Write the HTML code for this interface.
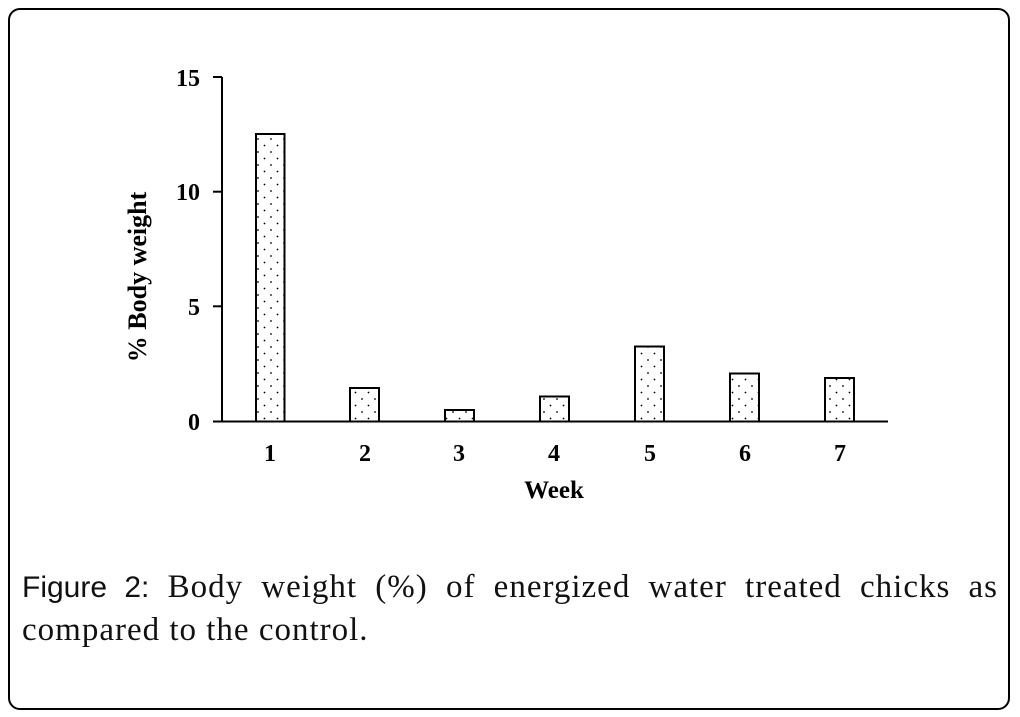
<!DOCTYPE html>
<html><head><style>
html,body{margin:0;padding:0;background:#fff;}
body{width:1020px;height:717px;position:relative;overflow:hidden;}
.frame{position:absolute;left:8px;top:8px;width:1002px;height:702px;border:2px solid #000;border-radius:12px;box-sizing:border-box;}
.cap{position:absolute;left:22px;width:976px;font-family:"Liberation Serif",serif;font-size:33px;letter-spacing:1px;line-height:43px;color:#111;white-space:nowrap;}
.l1{top:566px;text-align:justify;text-align-last:justify;white-space:normal;}
.l2{top:609px;}
</style></head><body>
<div class="frame"></div>
<svg width="1020" height="717" style="position:absolute;left:0;top:0">
<defs><pattern id="d" width="13" height="13" patternUnits="userSpaceOnUse" x="255" y="136">
<circle cx="3" cy="3" r="0.9" fill="#000"/><circle cx="9.5" cy="9.5" r="0.9" fill="#000"/></pattern></defs>
<g stroke="#000" stroke-width="2" fill="none">
<line x1="222" y1="77" x2="222" y2="422"/>
<line x1="213" y1="421.5" x2="888" y2="421.5"/>
<line x1="213" y1="77" x2="222" y2="77"/>
<line x1="213" y1="191.7" x2="222" y2="191.7"/>
<line x1="213" y1="306.3" x2="222" y2="306.3"/>
</g>
<g stroke="#000" stroke-width="2" fill="url(#d)">
<rect x="256" y="134" width="28.5" height="287.5"/>
<rect x="350" y="388" width="29" height="33.5"/>
<rect x="445" y="410" width="29" height="11.5"/>
<rect x="540" y="396.5" width="29" height="25"/>
<rect x="635" y="346.5" width="29" height="75"/>
<rect x="730" y="373.5" width="29" height="48"/>
<rect x="825" y="378" width="29" height="43.5"/>
</g>
<g font-family="Liberation Serif,serif" font-weight="bold" font-size="24" fill="#000">
<text x="200" y="86" text-anchor="end">15</text>
<text x="200" y="200" text-anchor="end">10</text>
<text x="200" y="315" text-anchor="end">5</text>
<text x="200" y="430" text-anchor="end">0</text>
<text x="270" y="461" text-anchor="middle">1</text>
<text x="365" y="461" text-anchor="middle">2</text>
<text x="459" y="461" text-anchor="middle">3</text>
<text x="554" y="461" text-anchor="middle">4</text>
<text x="650" y="461" text-anchor="middle">5</text>
<text x="745" y="461" text-anchor="middle">6</text>
<text x="840" y="461" text-anchor="middle">7</text>
<text x="554" y="498" text-anchor="middle" font-size="25">Week</text>
<text transform="translate(146,277) rotate(-90)" text-anchor="middle" font-size="26">% Body weight</text>
</g>
</svg>
<div class="cap l1"><span style="font-family:'Liberation Sans',sans-serif;font-size:30px;letter-spacing:0">Figure 2:</span> Body weight (%) of energized water treated chicks as</div>
<div class="cap l2">compared to the control.</div>
</body></html>
